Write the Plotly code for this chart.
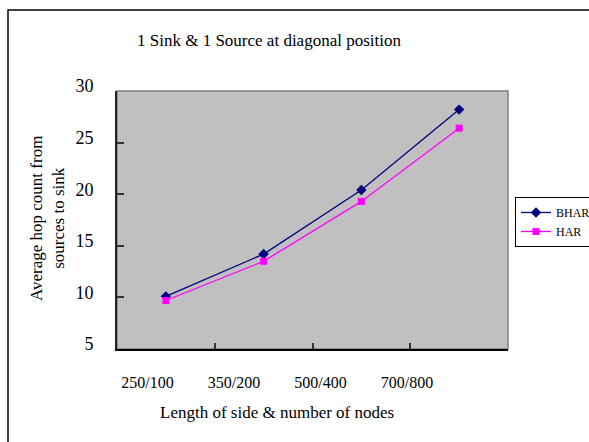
import plotly.graph_objects as go

# Data
categories = ["250/100", "350/200", "500/400", "700/800"]
bhar = [10.1, 14.2, 20.4, 28.2]
har = [9.7, 13.5, 19.3, 26.4]
y_ticks = [5, 10, 15, 20, 25, 30]

title_text = "1 Sink &amp; 1 Source at diagonal position"
x_title = "Length of side &amp; number of nodes"
y_title = "Average hop count from<br>sources to sink"

W, H = 589, 442
L, R, T, B = 117, 508, 91, 349  # plot-area pixel bounds
FONT = "Liberation Serif, Times New Roman, serif"


def px_x(p):
    return (p - L) / (R - L)


def px_y(p):
    return (B - p) / (B - T)


fig = go.Figure()
fig.add_trace(go.Scatter(
    x=categories, y=bhar, name="BHAR", mode="lines+markers",
    line=dict(color="#000080", width=1.3),
    marker=dict(symbol="diamond", size=8, color="#000080"),
))
fig.add_trace(go.Scatter(
    x=categories, y=har, name="HAR", mode="lines+markers",
    line=dict(color="#FF00FF", width=1.3),
    marker=dict(symbol="square", size=7, color="#FF00FF"),
))
# carrier for the category label axis
fig.add_trace(go.Scatter(
    x=list(range(len(categories))), y=[bhar[0]] * len(categories),
    xaxis="x2", mode="markers", marker=dict(opacity=0),
    showlegend=False, hoverinfo="skip",
))

fig.update_layout(
    width=W, height=H,
    margin=dict(l=L, r=W - R, t=T, b=H - B, autoexpand=False),
    paper_bgcolor="white",
    plot_bgcolor="#C0C0C0",
    font=dict(family=FONT, size=16, color="black"),
    title=dict(text=title_text, x=px_x(269), xref="paper", xanchor="center",
               y=1 - 40 / H, yref="container", yanchor="middle",
               font=dict(family=FONT, size=17, color="black")),
    xaxis=dict(
        type="category", range=[-0.5, 3.5], tickson="boundaries",
        ticks="inside", ticklen=6, tickwidth=1.5, tickcolor="#333333",
        showticklabels=False, showgrid=False, zeroline=False,
        showline=True, linecolor="black", linewidth=1.5,
    ),
    xaxis2=dict(
        overlaying="x", side="bottom", anchor="y",
        range=[(L - 147.5) / 86.5, (R - 147.5) / 86.5],
        tickmode="array", tickvals=list(range(len(categories))), ticktext=categories,
        ticks="", showgrid=False, zeroline=False, showline=False,
        ticklabelstandoff=22, tickfont=dict(family=FONT, size=16),
    ),
    yaxis=dict(
        range=[5, 30], tickvals=y_ticks,
        ticks="inside", ticklen=7, tickwidth=1.5, tickcolor="#333333",
        showgrid=False, zeroline=False,
        showline=True, linecolor="#222222", linewidth=1.8,
        ticklabelstandoff=18, ticklabelshift=-5,
        tickfont=dict(family=FONT, size=18),
    ),
    legend=dict(
        x=px_x(515), y=px_y(197), xanchor="left", yanchor="top",
        bordercolor="black", borderwidth=1, bgcolor="white",
        font=dict(family=FONT, size=12, color="black"),
        itemwidth=30, tracegroupgap=0,
    ),
    showlegend=True,
)

# chart frame and the grey plot-area border
fig.add_shape(type="rect", xref="paper", yref="paper",
              x0=px_x(8), x1=px_x(640), y0=px_y(480), y1=px_y(10),
              line=dict(color="black", width=1.5), layer="below")
fig.add_shape(type="rect", xref="paper", yref="paper",
              x0=0, x1=1, y0=0, y1=1,
              line=dict(color="#808080", width=1.5), layer="below")

# axis titles
fig.add_annotation(text=x_title, xref="paper", yref="paper",
                   x=px_x(277), y=px_y(412), xanchor="center", yanchor="middle",
                   showarrow=False, font=dict(family=FONT, size=17))
fig.add_annotation(text=y_title, xref="paper", yref="paper",
                   x=px_x(47), y=px_y(219), xanchor="center", yanchor="middle",
                   textangle=-90, showarrow=False,
                   font=dict(family=FONT, size=17))

fig.write_html("out.html")
